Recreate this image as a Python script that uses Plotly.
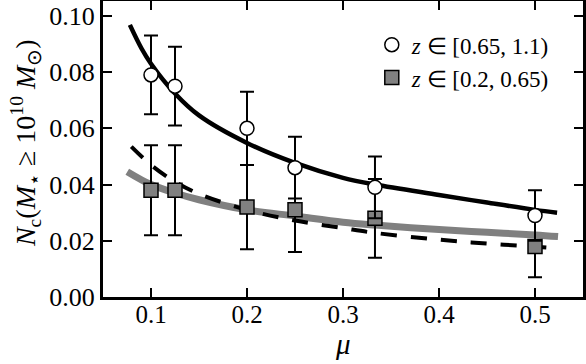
import plotly.graph_objects as go

# data points
mu_pts = [0.1, 0.125, 0.2, 0.25, 0.3333, 0.5]
hi_nc = [0.079, 0.075, 0.060, 0.046, 0.039, 0.029]
hi_err = [0.014, 0.014, 0.013, 0.011, 0.011, 0.009]
lo_nc = [0.038, 0.038, 0.032, 0.031, 0.028, 0.018]
lo_err = [0.016, 0.016, 0.015, 0.015, 0.014, 0.011]

# fitted curves
mu_fit_hi = [0.078, 0.09, 0.1, 0.125, 0.15, 0.2, 0.25, 0.3, 0.3333, 0.4, 0.45, 0.5, 0.523]
nc_fit_hi = [0.0968, 0.0885, 0.0830, 0.0724, 0.0646, 0.0548, 0.0477, 0.0424, 0.0400, 0.0363, 0.0336, 0.0310, 0.0300]
mu_fit_lo = [0.0753, 0.1, 0.125, 0.15, 0.2, 0.25, 0.3, 0.3333, 0.4, 0.45, 0.5, 0.524]
nc_fit_lo = [0.0446, 0.0400, 0.0370, 0.0346, 0.0310, 0.0288, 0.0266, 0.0256, 0.0240, 0.0230, 0.0221, 0.0215]
mu_fit_dash = [0.0795, 0.1, 0.125, 0.15, 0.2, 0.25, 0.3, 0.3333, 0.4, 0.45, 0.5, 0.517]
nc_fit_dash = [0.0535, 0.0470, 0.0410, 0.0367, 0.0310, 0.0272, 0.0245, 0.0228, 0.0204, 0.0190, 0.0179, 0.0175]

x_ticks = [0.1, 0.2, 0.3, 0.4, 0.5]
y_ticks = [0.0, 0.02, 0.04, 0.06, 0.08, 0.10]

FONT = "Liberation Serif"

fig = go.Figure()
fig.add_trace(go.Scatter(x=mu_fit_lo, y=nc_fit_lo, mode="lines", line=dict(color="#808080", width=7, shape="spline"), showlegend=False, hoverinfo="skip"))
fig.add_trace(go.Scatter(x=mu_fit_dash, y=nc_fit_dash, mode="lines", line=dict(color="black", width=4, dash="16px,14px", shape="spline"), showlegend=False, hoverinfo="skip"))
fig.add_trace(go.Scatter(x=mu_fit_hi, y=nc_fit_hi, mode="lines", line=dict(color="black", width=4.5, shape="spline"), showlegend=False, hoverinfo="skip"))

fig.add_trace(go.Scatter(
    x=mu_pts, y=lo_nc, mode="markers", name="<i>z</i> ∈ [0.2, 0.65)",
    marker=dict(symbol="square", size=14, color="#808080", line=dict(color="black", width=1.5)),
    error_y=dict(type="data", array=lo_err, color="black", thickness=2, width=7),
))
fig.add_trace(go.Scatter(
    x=mu_pts, y=hi_nc, mode="markers", name="<i>z</i> ∈ [0.65, 1.1)",
    marker=dict(symbol="circle", size=14, color="white", line=dict(color="black", width=1.5)),
    error_y=dict(type="data", array=hi_err, color="black", thickness=2, width=7),
))

axis_common = dict(
    showline=True, linecolor="black", linewidth=3, mirror="ticks",
    ticks="inside", ticklen=9, tickwidth=1.5, tickcolor="black",
    showgrid=False, zeroline=False, automargin=False,
)

fig.update_layout(
    width=586, height=364,
    margin=dict(l=103, r=3, t=1, b=67),
    plot_bgcolor="white", paper_bgcolor="white",
    xaxis=dict(range=[0.05, 0.55], tickvals=x_ticks, ticktext=[f"{v:.1f}" for v in x_ticks],
               ticklabelstandoff=-7, tickfont=dict(family=FONT, size=25, color="black"), **axis_common),
    yaxis=dict(range=[0, 0.1053], tickvals=y_ticks, ticktext=[f"{v:.2f}" for v in y_ticks],
               tickfont=dict(family=FONT, size=26, color="black"), **axis_common),
    legend=dict(x=0.56, y=0.925, xanchor="left", yanchor="top", bgcolor="rgba(0,0,0,0)",
                font=dict(family=FONT, size=23, color="black"), traceorder="reversed",
                itemwidth=30),
    showlegend=True,
    annotations=[
        dict(text="<i>μ</i>", xref="paper", yref="paper", x=0.5, y=-65 / 296, xanchor="center", yanchor="bottom",
             showarrow=False, font=dict(family=FONT, size=29, color="black")),
        dict(text="<i>N</i><sub>c</sub>(<i>M</i><sub>⋆</sub> ≥ 10<sup>10</sup> <i>M</i><sub>⊙</sub>)",
             xref="paper", yref="paper", x=-78 / 480, y=0.52, xanchor="center", yanchor="middle",
             textangle=-90, showarrow=False, font=dict(family=FONT, size=28, color="black")),
    ],
)

fig.write_html("out.html", config={"displayModeBar": False},
               post_script="document.body.style.margin='0';document.body.style.padding='0';")
